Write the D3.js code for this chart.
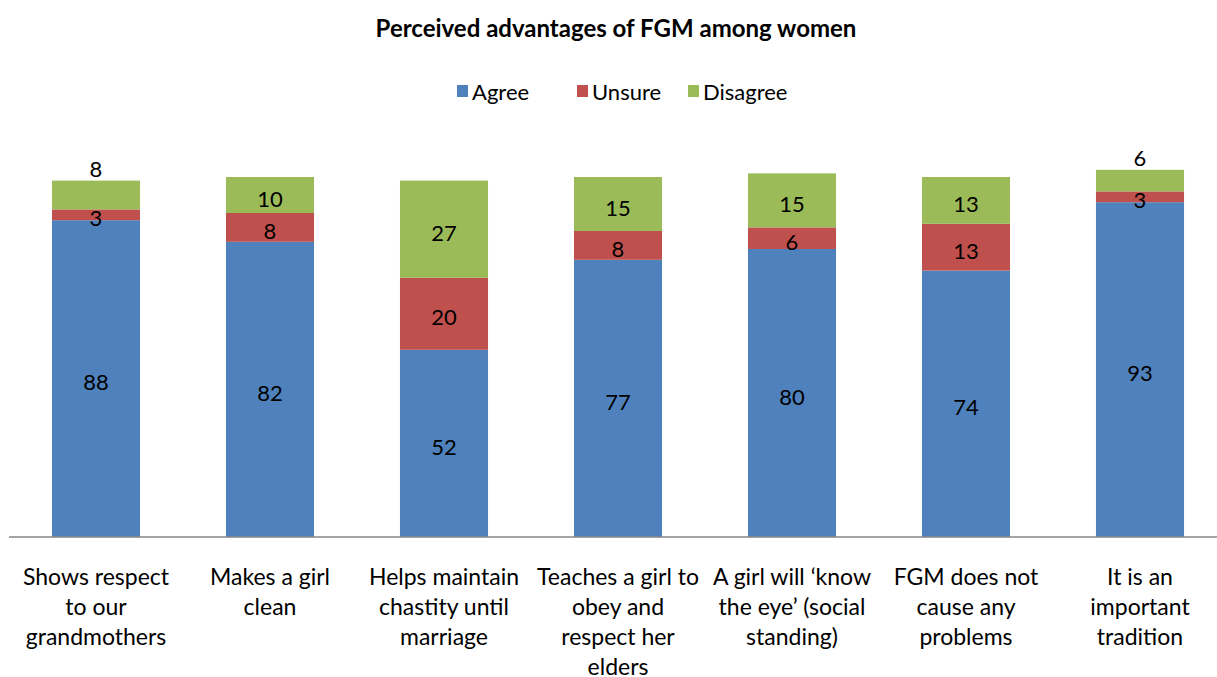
<!DOCTYPE html>
<html><head><meta charset="utf-8">
<script src="https://cdn.jsdelivr.net/npm/d3@7"></script>
<style>body{margin:0;background:#fff;} text{font-family:Lato,"Open Sans",sans-serif;}</style>
</head><body>
<svg id="chart" width="1217" height="677"></svg>
<script>
const categories = [
  ["Shows respect","to our","grandmothers"],
  ["Makes a girl","clean"],
  ["Helps maintain","chastity until","marriage"],
  ["Teaches a girl to","obey and","respect her","elders"],
  ["A girl will \u2018know","the eye\u2019 (social","standing)"],
  ["FGM does not","cause any","problems"],
  ["It is an","important","tradition"]
];
const seriesNames = ["Agree","Unsure","Disagree"];
const agree = [88,82,52,77,80,74,93];
const unsure = [3,8,20,8,6,13,3];
const disagree = [8,10,27,15,15,13,6];
const colors = ["#4F81BD","#C0504D","#9BBB59"];

const svg = d3.select("#chart");
const x = d3.scaleBand().domain(d3.range(categories.length)).range([9,1227]).paddingInner(0.494).paddingOuter(0.247);
const y = d3.scaleLinear().domain([0,100]).range([537,177]);

const rows = categories.map((c,i)=>({i, Agree:agree[i], Unsure:unsure[i], Disagree:disagree[i]}));
const stacked = d3.stack().keys(seriesNames)(rows);

svg.append("text").attr("x",616).attr("y",27).attr("text-anchor","middle").attr("dominant-baseline","central")
  .style("font-weight","bold").style("font-size","24px").text("Perceived advantages of FGM among women");

// legend
const legendX = [457,577,688];
seriesNames.forEach((s,k)=>{
  const g = svg.append("g").attr("transform",`translate(${legendX[k]},91)`);
  g.append("rect").attr("x",0).attr("y",-6).attr("width",11).attr("height",12).attr("fill",colors[k]);
  g.append("text").attr("x",15).attr("y",0).attr("dominant-baseline","central").style("font-size","22px").text(s);
});

const layer = svg.selectAll("g.layer").data(stacked).join("g").attr("class","layer").attr("fill",(d,k)=>colors[k]);
layer.selectAll("rect").data(d=>d).join("rect")
  .attr("x",d=>x(d.data.i)).attr("width",x.bandwidth())
  .attr("y",d=>y(d[1])).attr("height",d=>y(d[0])-y(d[1]));

// labels
stacked.forEach((ser,k)=>{
  ser.forEach(d=>{
    const v = d[1]-d[0];
    let cy = (y(d[0])+y(d[1]))/2;
    if (k===stacked.length-1 && v<9) cy = y(d[1]) - 15;
    svg.append("text").attr("x",x(d.data.i)+x.bandwidth()/2).attr("y",cy+3)
      .attr("text-anchor","middle").attr("dominant-baseline","central").style("font-size","22px").attr("fill","#000").text(v);
  });
});

// axis
const axis = d3.axisBottom(x).tickSize(0).tickFormat("");
const ag = svg.append("g").attr("transform","translate(0,537)").call(axis);
ag.select(".domain").attr("stroke","#868686").attr("stroke-width",1.5).attr("d","M9,0H1217");

categories.forEach((lines,i)=>{
  const t = svg.append("text").attr("text-anchor","middle").style("font-size","23px").attr("fill","#000");
  lines.forEach((ln,j)=>{
    t.append("tspan").attr("x",x(i)+x.bandwidth()/2).attr("y",576+30*j).attr("dominant-baseline","central").text(ln);
  });
});
</script>
</body></html>
